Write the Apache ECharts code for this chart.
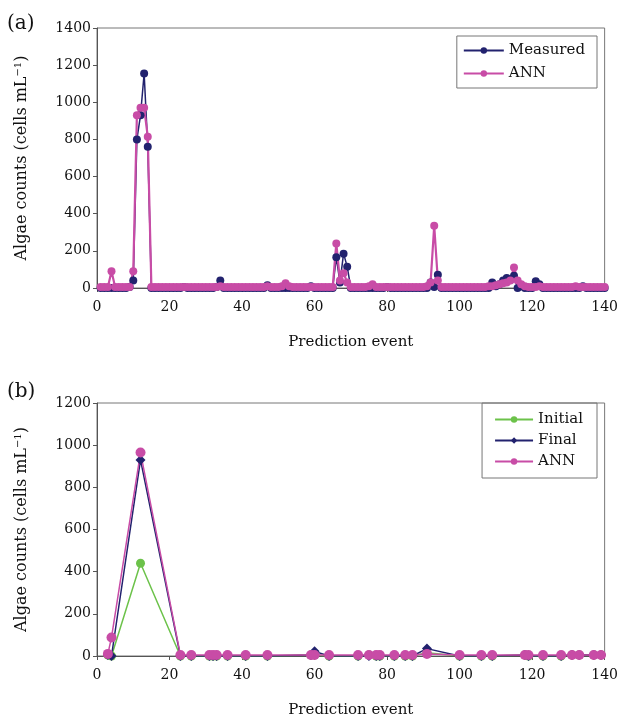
<!DOCTYPE html>
<html><head><meta charset="utf-8">
<script src="https://cdn.jsdelivr.net/npm/echarts@6/dist/echarts.min.js"></script>
<style>html,body{margin:0;padding:0;background:#fff}#c{width:621px;height:719px}</style>
</head><body><div id="c"></div>
<script>
// Panel (a): prediction events 1..140
var eventsA = [];
for (var i = 1; i <= 140; i++) eventsA.push(i);
var measuredA = [
0,0,0,0,0,0,0,0,5,40, 800,930,1155,760,0,0,0,0,0,0,
0,0,0,5,0,0,0,0,0,0, 0,0,5,40,0,0,0,0,0,0,
0,0,0,0,0,0,15,0,0,0, 0,0,0,0,0,0,0,0,10,0,
0,0,0,0,0,165,30,185,115,0, 0,0,0,0,0,0,0,0,0,5,
0,0,0,0,0,0,0,0,0,0, 0,30,5,72,0,0,0,0,0,0,
0,0,0,0,0,0,0,0,30,10, 20,40,54,45,66,0,10,0,0,0,
36,20,0,0,0,0,0,0,0,0, 0,0,0,10,0,0,0,0,0,0
];
var annA = [
5,5,5,90,5,5,5,5,5,90, 930,970,970,815,5,5,5,5,5,5,
5,5,5,5,5,5,5,5,5,5, 5,5,5,10,5,5,5,5,5,5,
5,5,5,5,5,5,10,5,5,5, 10,25,10,5,5,5,5,5,5,5,
5,5,5,5,5,240,40,80,30,5, 5,5,5,5,10,20,5,5,5,5,
5,5,5,5,5,5,5,5,5,5, 10,30,335,40,5,5,5,5,5,5,
5,5,5,5,5,5,5,10,10,15, 20,25,30,40,111,40,20,10,5,5,
5,10,5,5,5,5,5,5,5,5, 5,10,5,5,5,5,5,5,5,5
];
// Panel (b)
var eventsB = [3,4,12,23,26,31,32,33,36,41,47,59,60,64,72,75,77,78,82,85,87,91,100,106,109,118,119,123,128,131,133,137,139];
var initialB = [5,0,440,0,0,0,0,0,0,0,0,5,5,0,0,5,0,0,0,0,0,15,0,0,0,5,0,0,0,5,5,5,5];
var finalB   = [5,0,930,0,0,0,0,0,0,0,0,5,22,0,0,0,0,0,0,0,0,35,0,0,0,5,0,0,0,5,5,5,5];
var annB     = [10,88,965,5,5,5,5,5,5,5,5,5,5,5,5,5,5,5,5,5,5,10,5,5,5,5,5,5,5,5,5,5,5];

var xTicks = [0,20,40,60,80,100,120,140];
var yTicksA = [0,200,400,600,800,1000,1200,1400];
var yTicksB = [0,200,400,600,800,1000,1200];

function pairs(xs, ys){ return xs.map(function(x,i){ return [x, ys[i]]; }); }

var FONT = 'DejaVu Serif';
var navy = '#22226e', pink = '#c84ca6', green = '#6cc24a';

function xAxis(gi){
  return {type:'value', gridIndex:gi, min:xTicks[0], max:xTicks[xTicks.length-1], interval:20,
    name:'Prediction event', nameLocation:'middle', nameGap:47,
    nameTextStyle:{fontFamily:FONT, fontSize:15, color:'#111'},
    axisLine:{lineStyle:{color:'#555', width:1}}, axisTick:{length:4, lineStyle:{color:'#555'}},
    axisLabel:{fontFamily:FONT, fontSize:14, color:'#111', margin:12, formatter:function(v){return String(v);}},
    splitLine:{show:false}};
}
function yAxis(gi, ticks){
  return {type:'value', gridIndex:gi, min:0, max:ticks[ticks.length-1], interval:200,
    name:'{a|Algae counts (cells mL}{s|−1}{a|)}', nameLocation:'middle', nameGap:66,
    nameTextStyle:{rich:{a:{fontFamily:FONT, fontSize:16, color:'#111'}, s:{fontFamily:FONT, fontSize:10, color:'#111', verticalAlign:'top', padding:[0,0,8,0]}}},
    axisLine:{show:true, lineStyle:{color:'#555', width:1}}, axisTick:{show:true, length:4, lineStyle:{color:'#555'}},
    axisLabel:{fontFamily:FONT, fontSize:14, color:'#111', margin:6, formatter:function(v){return String(v);}},
    splitLine:{show:false}};
}

var chart = echarts.init(document.getElementById('c'), null, {renderer:'canvas'});
chart.setOption({
  animation:false,
  grid:[
    {left:97, top:28, width:510, height:260, show:true, borderColor:'#777', borderWidth:1},
    {left:97, top:403, width:510, height:253, show:true, borderColor:'#777', borderWidth:1}
  ],
  xAxis:[xAxis(0), xAxis(1)],
  yAxis:[yAxis(0, yTicksA), yAxis(1, yTicksB)],
  legend:[
    {data:['Measured','ANN'], orient:'vertical', right:24, top:36, itemWidth:40, itemHeight:8, itemGap:8,
     borderColor:'#777', borderWidth:1, padding:[7,12,7,6], textStyle:{fontFamily:FONT, fontSize:15, color:'#111'}},
    {data:['Initial','Final','ANN '], orient:'vertical', right:24, top:403, itemWidth:38, itemHeight:8, itemGap:6,
     borderColor:'#777', borderWidth:1, padding:[9,14,9,12], textStyle:{fontFamily:FONT, fontSize:15, color:'#111'}}
  ],
  graphic:[
    {type:'text', left:7, top:14, style:{text:'(a)', font:'20px "DejaVu Serif"', fill:'#111'}},
    {type:'text', left:7, top:382, style:{text:'(b)', font:'20px "DejaVu Serif"', fill:'#111'}}
  ],
  series:[
    {name:'Measured', type:'line', xAxisIndex:0, yAxisIndex:0, data:pairs(eventsA, measuredA),
     symbol:'circle', symbolSize:8, lineStyle:{color:navy, width:1.5}, itemStyle:{color:navy}},
    {name:'ANN', type:'line', xAxisIndex:0, yAxisIndex:0, data:pairs(eventsA, annA),
     symbol:'circle', symbolSize:8, lineStyle:{color:pink, width:2.2}, itemStyle:{color:pink}},
    {name:'Initial', type:'line', xAxisIndex:1, yAxisIndex:1, data:pairs(eventsB, initialB),
     symbol:'circle', symbolSize:9, lineStyle:{color:green, width:1.5}, itemStyle:{color:green}},
    {name:'Final', type:'line', xAxisIndex:1, yAxisIndex:1, data:pairs(eventsB, finalB),
     symbol:'diamond', symbolSize:10, lineStyle:{color:navy, width:1.5}, itemStyle:{color:navy}},
    {name:'ANN ', type:'line', xAxisIndex:1, yAxisIndex:1, data:pairs(eventsB, annB),
     symbol:'circle', symbolSize:10, lineStyle:{color:pink, width:1.5}, itemStyle:{color:pink}}
  ]
});
</script></body></html>
